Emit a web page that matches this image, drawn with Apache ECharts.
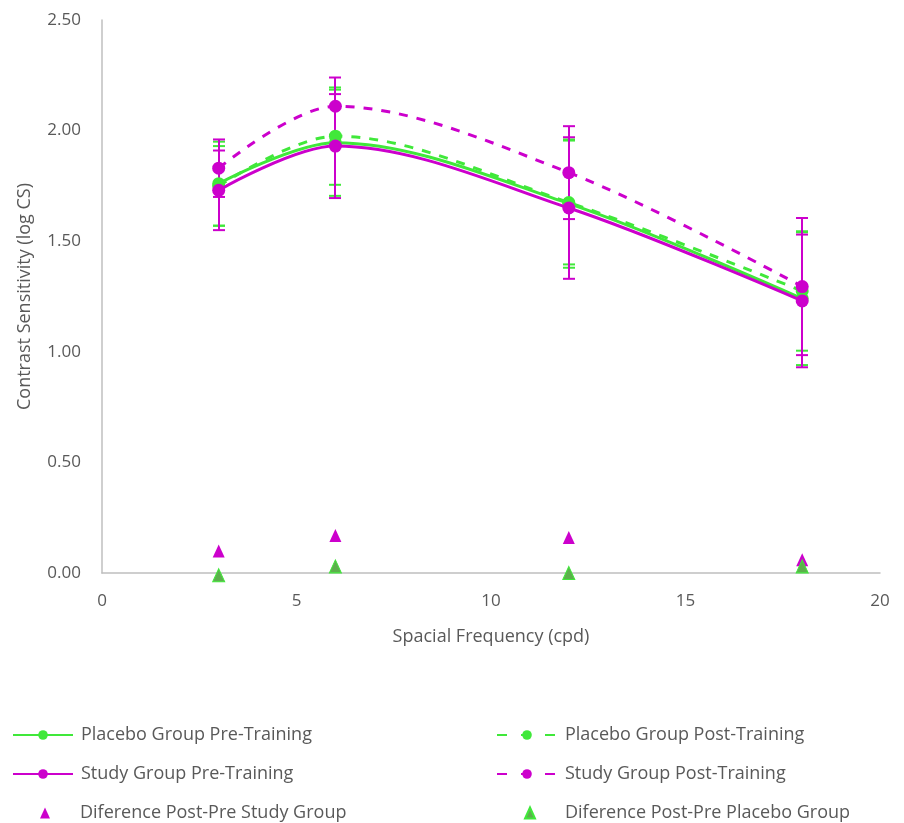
<!DOCTYPE html>
<html>
<head>
<meta charset="utf-8">
<script src="https://cdn.jsdelivr.net/npm/echarts@6/dist/echarts.min.js"></script>
<style>html,body{margin:0;padding:0;background:#fff}#c{width:904px;height:823px}</style>
</head>
<body>
<div id="c"></div>
<script>
var freqs = [3, 6, 12, 18];
var placeboPre = [1.76, 1.945, 1.67, 1.24];
var placeboPost = [1.75, 1.975, 1.675, 1.275];
var studyPre = [1.73, 1.93, 1.65, 1.23];
var studyPost = [1.83, 2.11, 1.81, 1.295];
var placeboPreErr = [0.19, 0.24, 0.29, 0.30];
var placeboPostErr = [0.18, 0.22, 0.28, 0.27];
var studyPreErr = [0.18, 0.235, 0.32, 0.30];
var studyPostErr = [0.13, 0.13, 0.21, 0.31];
var diffStudy = [0.10, 0.17, 0.16, 0.06];
var diffPlacebo = [-0.01, 0.03, 0.00, 0.03];
var yTicks = [0, 0.5, 1, 1.5, 2, 2.5];
var xTicks = [0, 5, 10, 15, 20];

var GREEN = '#40e83a';
var MAG = '#cc00cc';
var FONT = 'Open Sans';
var TXT = '#595959';

function pairs(ys) { return freqs.map(function (x, i) { return [x, ys[i]]; }); }
function errData(ys, es) { return freqs.map(function (x, i) { return [x, ys[i] - es[i], ys[i] + es[i]]; }); }

function errSeries(ys, es, color, name) {
  return {
    type: 'custom', name: name, silent: true,
    data: errData(ys, es),
    encode: { x: 0, y: [1, 2] },
    z: 1,
    renderItem: function (params, api) {
      var x = api.value(0);
      var lo = api.coord([x, api.value(1)]);
      var hi = api.coord([x, api.value(2)]);
      var px = Math.round(lo[0]);
      var w = 6;
      var st = { stroke: color, lineWidth: 2, fill: null };
      return {
        type: 'group',
        children: [
          { type: 'line', shape: { x1: px, y1: lo[1], x2: px, y2: hi[1] }, style: st },
          { type: 'line', shape: { x1: px - w, y1: lo[1], x2: px + w, y2: lo[1] }, style: st },
          { type: 'line', shape: { x1: px - w, y1: hi[1], x2: px + w, y2: hi[1] }, style: st }
        ]
      };
    }
  };
}

function lineSeries(name, ys, color, dashed, z) {
  return {
    type: 'line', name: name, data: pairs(ys), smooth: 0.33,
    symbol: 'circle', symbolSize: 13, z: z,
    lineStyle: { color: color, width: 3, type: dashed ? [9, 9] : 'solid' },
    itemStyle: { color: color }
  };
}

function legendAt(name, left, top, kind) {
  var tri = kind === 'tri';
  var leg = {
    data: [name], left: left, top: top, padding: 0,
    itemWidth: tri ? 10 : 60, itemHeight: tri ? 11 : 12,
    textStyle: { fontFamily: FONT, fontSize: 18, color: TXT, padding: tri ? [0, 0, 0, 25] : [0, 0, 0, 3] },
    selectedMode: false
  };
  if (kind === 'dash') leg.lineStyle = { type: [10, 14] };
  return leg;
}

var chart = echarts.init(document.getElementById('c'));
chart.setOption({
  animation: false,
  backgroundColor: '#fff',
  grid: { left: 102, right: 24, top: 20, bottom: 250 },
  legend: [
    legendAt('Placebo Group Pre-Training', 12, 726, 'line'),
    legendAt('Study Group Pre-Training', 12, 765, 'line'),
    legendAt('Diference Post-Pre Study Group', 40, 804, 'tri'),
    legendAt('Placebo Group Post-Training', 496, 726, 'dash'),
    legendAt('Study Group Post-Training', 496, 765, 'dash'),
    legendAt('Diference Post-Pre Placebo Group', 524, 804, 'tri')
  ],
  xAxis: {
    type: 'value', min: xTicks[0], max: xTicks[xTicks.length - 1], interval: 5,
    name: 'Spacial Frequency (cpd)', nameLocation: 'middle', nameGap: 55,
    nameTextStyle: { fontFamily: FONT, fontSize: 18, color: TXT },
    axisLine: { show: true, lineStyle: { color: '#bfbfbf', width: 1.5 } },
    axisTick: { show: false },
    splitLine: { show: false },
    axisLabel: { fontFamily: FONT, fontSize: 17, color: TXT, margin: 20 }
  },
  yAxis: {
    type: 'value', min: yTicks[0], max: yTicks[yTicks.length - 1], interval: 0.5,
    name: 'Contrast Sensitivity (log CS)', nameLocation: 'middle', nameGap: 68,
    nameTextStyle: { fontFamily: FONT, fontSize: 18, color: TXT },
    axisLine: { show: true, lineStyle: { color: '#bfbfbf', width: 1.5 } },
    axisTick: { show: false },
    splitLine: { show: false },
    axisLabel: { fontFamily: FONT, fontSize: 17, color: TXT, margin: 21,
      formatter: function (v) { return v.toFixed(2); } }
  },
  series: [
    errSeries(placeboPre, placeboPreErr, GREEN, 'ePP'),
    errSeries(placeboPost, placeboPostErr, GREEN, 'ePPo'),
    errSeries(studyPre, studyPreErr, MAG, 'eSP'),
    errSeries(studyPost, studyPostErr, MAG, 'eSPo'),
    lineSeries('Placebo Group Pre-Training', placeboPre, GREEN, false, 2),
    lineSeries('Placebo Group Post-Training', placeboPost, GREEN, true, 3),
    lineSeries('Study Group Pre-Training', studyPre, MAG, false, 4),
    lineSeries('Study Group Post-Training', studyPost, MAG, true, 5),
    {
      type: 'scatter', name: 'Diference Post-Pre Study Group', data: pairs(diffStudy),
      symbol: 'triangle', symbolSize: [12, 13], z: 6, clip: false,
      itemStyle: { color: MAG, opacity: 1 }
    },
    {
      type: 'scatter', name: 'Diference Post-Pre Placebo Group', data: pairs(diffPlacebo),
      symbol: 'triangle', symbolSize: [12, 13], z: 7, clip: false,
      itemStyle: { color: '#5cb04c', borderColor: GREEN, borderWidth: 1, opacity: 1 }
    }
  ]
});
</script>
</body>
</html>
